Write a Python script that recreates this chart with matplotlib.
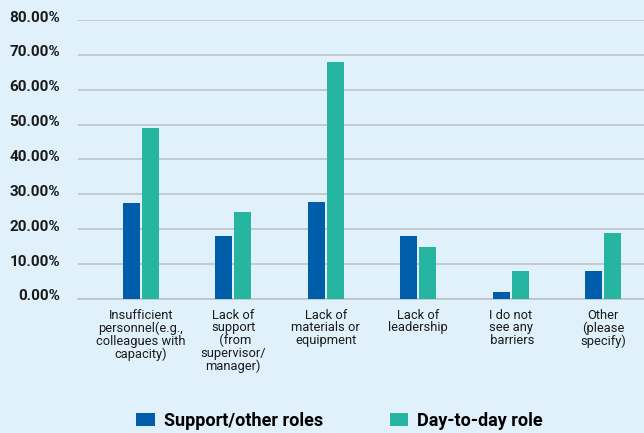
import matplotlib.pyplot as plt
import matplotlib.transforms as mtransforms
import numpy as np

# Data
categories = [
    "Insufficient\npersonnel(e.g.,\ncolleagues with\ncapacity)",
    "Lack of\nsupport\n (from\nsupervisor/\nmanager)",
    "Lack of\nmaterials or\nequipment",
    "Lack of\nleadership",
    "I do not\nsee any\n barriers",
    "Other\n(please\nspecify)",
]
support_roles = [27.5, 18.1, 27.8, 18.1, 2.0, 8.0]
day_to_day = [49.0, 24.9, 67.9, 14.9, 8.0, 18.9]
series_names = ["Support/other roles", "Day-to-day role"]
y_ticks = [0, 10, 20, 30, 40, 50, 60, 70, 80]

bg = "#E0F1FB"
blue = "#005DAA"
teal = "#26B5A0"
grid_col = "#BFC4C8"

plt.rcParams['font.family'] = ['Roboto', 'DejaVu Sans']

fig = plt.figure(figsize=(6.44, 4.33), dpi=100, facecolor=bg)
ax = fig.add_axes([0.121, 0.3095, 0.879, 0.6443])
ax.set_facecolor(bg)

x = np.arange(len(categories))
w = 0.184
off = 0.103
b1 = ax.bar(x - off, support_roles, w, color=blue, zorder=3)
b2 = ax.bar(x + off, day_to_day, w, color=teal, zorder=3)

ax.set_xlim(-0.682, 5.444)
ax.set_ylim(0, 80)
ax.set_yticks(y_ticks)
ax.set_yticklabels([f"{v:.2f}%" for v in y_ticks], fontsize=11,
                   fontweight='bold', color="#1a1a1a")
ax.yaxis.grid(True, color=grid_col, linewidth=1.2, zorder=0)
ax.tick_params(axis='y', length=0, pad=13)
ax.tick_params(axis='x', length=0, pad=7)
shift = mtransforms.ScaledTranslation(0, 4 / 100, fig.dpi_scale_trans)
for lab in ax.get_yticklabels():
    lab.set_transform(lab.get_transform() + shift)

ax.set_xticks(x)
ax.set_xticklabels(categories, fontsize=9.3, color="#1a1a1a", linespacing=0.97)

for s in ['top', 'right', 'left']:
    ax.spines[s].set_visible(False)
ax.spines['bottom'].set_color(grid_col)
ax.spines['bottom'].set_linewidth(1.2)

fig.legend([b1, b2], series_names, loc='center', bbox_to_anchor=(0.527, 0.028),
           ncol=2, frameon=False, prop={'size': 13, 'weight': 'bold'},
           handlelength=1.0, handleheight=0.7, columnspacing=3.7,
           handletextpad=0.5, borderpad=0, borderaxespad=0)

fig.savefig("out.png", dpi=100, facecolor=bg)
